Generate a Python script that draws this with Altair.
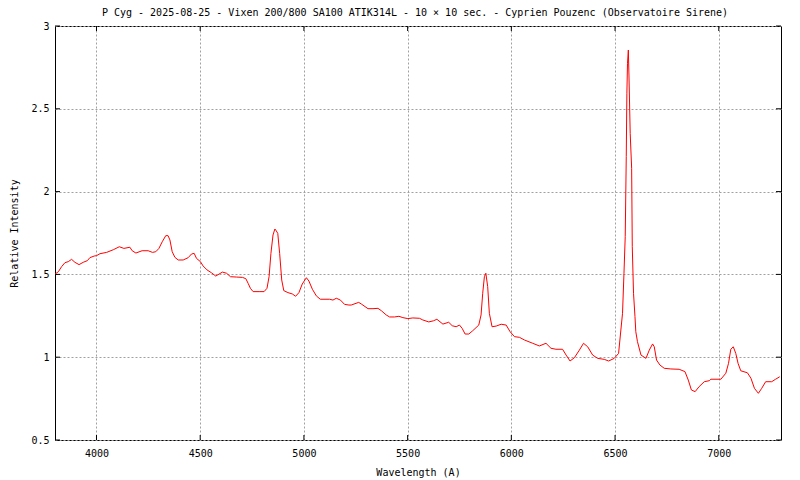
import altair as alt
import pandas as pd

wavelength = [
    3800, 3816, 3832, 3848, 3864, 3880, 3896, 3916, 3936, 3956, 3968, 3989, 4000, 4017, 4049,
    4081, 4110, 4132, 4161, 4172, 4190, 4220, 4249, 4270, 4286, 4301, 4317, 4334, 4345, 4354,
    4365, 4378, 4394, 4418, 4442, 4458, 4471, 4482, 4501, 4514, 4533, 4554, 4575, 4591, 4607,
    4627, 4646, 4675, 4704, 4720, 4731, 4742, 4755, 4784, 4808, 4822, 4832, 4841, 4851, 4860,
    4864, 4874, 4883, 4893, 4903, 4923, 4944, 4960, 4976, 4992, 5012, 5024, 5041, 5060, 5079,
    5124, 5140, 5156, 5176, 5196, 5217, 5228, 5264, 5277, 5309, 5333, 5357, 5373, 5397, 5413,
    5437, 5458, 5477, 5501, 5525, 5557, 5573, 5602, 5625, 5641, 5670, 5698, 5715, 5734, 5750,
    5763, 5777, 5795, 5814, 5843, 5854, 5862, 5870, 5877, 5886, 5894, 5907, 5927, 5951, 5975,
    5994, 6015, 6039, 6063, 6103, 6135, 6167, 6191, 6215, 6247, 6264, 6283, 6304, 6328, 6348,
    6368, 6392, 6416, 6448, 6469, 6496, 6517, 6528, 6536, 6543, 6549, 6554, 6557, 6560, 6564,
    6567, 6573, 6580, 6583, 6589, 6596, 6600, 6608, 6625, 6649, 6665, 6681, 6689, 6700, 6716,
    6737, 6769, 6809, 6837, 6853, 6868, 6886, 6905, 6930, 6954, 6962, 7010, 7034, 7047, 7058,
    7070, 7082, 7093, 7106, 7138, 7155, 7172, 7191, 7207, 7226, 7255, 7274, 7294,
]
intensity = [
    1.502, 1.516, 1.547, 1.571, 1.577, 1.591, 1.573, 1.559, 1.573, 1.583, 1.601, 1.611, 1.613, 1.625, 1.633,
    1.649, 1.667, 1.657, 1.664, 1.643, 1.629, 1.643, 1.643, 1.633, 1.637, 1.657, 1.697, 1.734, 1.734, 1.708,
    1.637, 1.603, 1.587, 1.587, 1.601, 1.623, 1.627, 1.597, 1.577, 1.551, 1.527, 1.510, 1.490, 1.502, 1.514,
    1.507, 1.486, 1.484, 1.482, 1.474, 1.446, 1.416, 1.396, 1.396, 1.396, 1.416, 1.486, 1.627, 1.738, 1.774,
    1.768, 1.748, 1.627, 1.466, 1.402, 1.390, 1.382, 1.368, 1.390, 1.442, 1.480, 1.460, 1.410, 1.370, 1.350,
    1.350, 1.345, 1.356, 1.345, 1.319, 1.315, 1.315, 1.331, 1.321, 1.293, 1.293, 1.295, 1.281, 1.255, 1.243,
    1.243, 1.247, 1.239, 1.233, 1.237, 1.235, 1.225, 1.213, 1.220, 1.229, 1.200, 1.211, 1.190, 1.184, 1.194,
    1.174, 1.140, 1.140, 1.160, 1.194, 1.255, 1.386, 1.486, 1.507, 1.426, 1.265, 1.184, 1.188, 1.199, 1.194,
    1.154, 1.124, 1.120, 1.104, 1.084, 1.068, 1.084, 1.054, 1.048, 1.048, 1.013, 0.977, 0.997, 1.043, 1.084,
    1.063, 1.013, 0.993, 0.987, 0.977, 0.993, 1.023, 1.164, 1.265, 1.507, 1.728, 2.211, 2.594, 2.775, 2.855,
    2.704, 2.352, 2.141, 1.667, 1.386, 1.245, 1.154, 1.094, 1.013, 0.993, 1.043, 1.080, 1.063, 0.983, 0.953,
    0.933, 0.929, 0.927, 0.913, 0.862, 0.802, 0.792, 0.822, 0.852, 0.858, 0.867, 0.867, 0.903, 0.963, 1.048,
    1.063, 1.023, 0.963, 0.918, 0.906, 0.873, 0.812, 0.782, 0.812, 0.852, 0.852, 0.867, 0.882,
]
x_ticks = [4000, 4500, 5000, 5500, 6000, 6500, 7000]
y_ticks = [0.5, 1.0, 1.5, 2.0, 2.5, 3.0]

TITLE = "P Cyg - 2025-08-25 - Vixen 200/800 SA100 ATIK314L - 10 \u00d7 10 sec. - Cyprien Pouzenc (Observatoire Sirene)"
W, H = 726, 414
FONT = "DejaVu Sans Mono"

df = pd.DataFrame({"wavelength": wavelength, "intensity": intensity})
xt = pd.DataFrame({"wavelength": x_ticks})
yt = pd.DataFrame({"intensity": y_ticks})
tdf = pd.DataFrame({"t": [TITLE]})

xs = alt.Scale(domain=[3800, 7300], nice=False, zero=False)
ys = alt.Scale(domain=[0.5, 3.0], nice=False, zero=False)

x_axis = alt.Axis(
    values=x_ticks, title="Wavelength (A)", grid=True, ticks=False, tickSize=0, domain=False,
    format="d", labelPadding=8, labelFont=FONT, labelFontSize=10, labelColor="black",
    titleFont=FONT, titleFontSize=10, titleFontWeight="normal", titleColor="black",
    titleX=W / 2, titleY=32, titleBaseline="middle", titleAlign="center",
    gridColor="#a0a0a0", gridDash=[2, 2], gridWidth=1, gridOpacity=1,
)
y_axis = alt.Axis(
    values=y_ticks, title="Relative Intensity", grid=True, ticks=False, tickSize=0, domain=False,
    format="~g", labelPadding=6, labelFont=FONT, labelFontSize=10, labelColor="black",
    titleFont=FONT, titleFontSize=10, titleFontWeight="normal", titleColor="black",
    titleX=-41, titleY=H / 2, titleAngle=270, titleBaseline="middle", titleAlign="center",
    gridColor="#a0a0a0", gridDash=[2, 2], gridWidth=1, gridOpacity=1,
)

line = alt.Chart(df).mark_line(color="#ff0000", strokeWidth=1, interpolate="linear").encode(
    x=alt.X("wavelength:Q", scale=xs, axis=x_axis),
    y=alt.Y("intensity:Q", scale=ys, axis=y_axis),
)

tick_b = alt.Chart(xt).mark_rule(color="black", strokeWidth=1).encode(
    x=alt.X("wavelength:Q", scale=xs), y=alt.value(H), y2=alt.value(H - 5)
)
tick_t = alt.Chart(xt).mark_rule(color="black", strokeWidth=1).encode(
    x=alt.X("wavelength:Q", scale=xs), y=alt.value(0), y2=alt.value(5)
)
tick_l = alt.Chart(yt).mark_rule(color="black", strokeWidth=1).encode(
    y=alt.Y("intensity:Q", scale=ys), x=alt.value(0), x2=alt.value(5)
)
tick_r = alt.Chart(yt).mark_rule(color="black", strokeWidth=1).encode(
    y=alt.Y("intensity:Q", scale=ys), x=alt.value(W), x2=alt.value(W - 5)
)

title = alt.Chart(tdf).mark_text(
    font=FONT, fontSize=10, color="black", align="center", baseline="middle"
).encode(text="t:N", x=alt.value(W / 2 - 3), y=alt.value(-13))

chart = alt.layer(line, tick_b, tick_t, tick_l, tick_r, title).properties(
    width=W, height=H,
    autosize=alt.AutoSizeParams(type="none"),
    padding={"left": 47, "top": 18, "right": 11, "bottom": 40},
    background="white",
).configure_view(
    stroke="black", strokeWidth=1
)

chart.save("out.html", embed_options={"renderer": "svg", "actions": False})
